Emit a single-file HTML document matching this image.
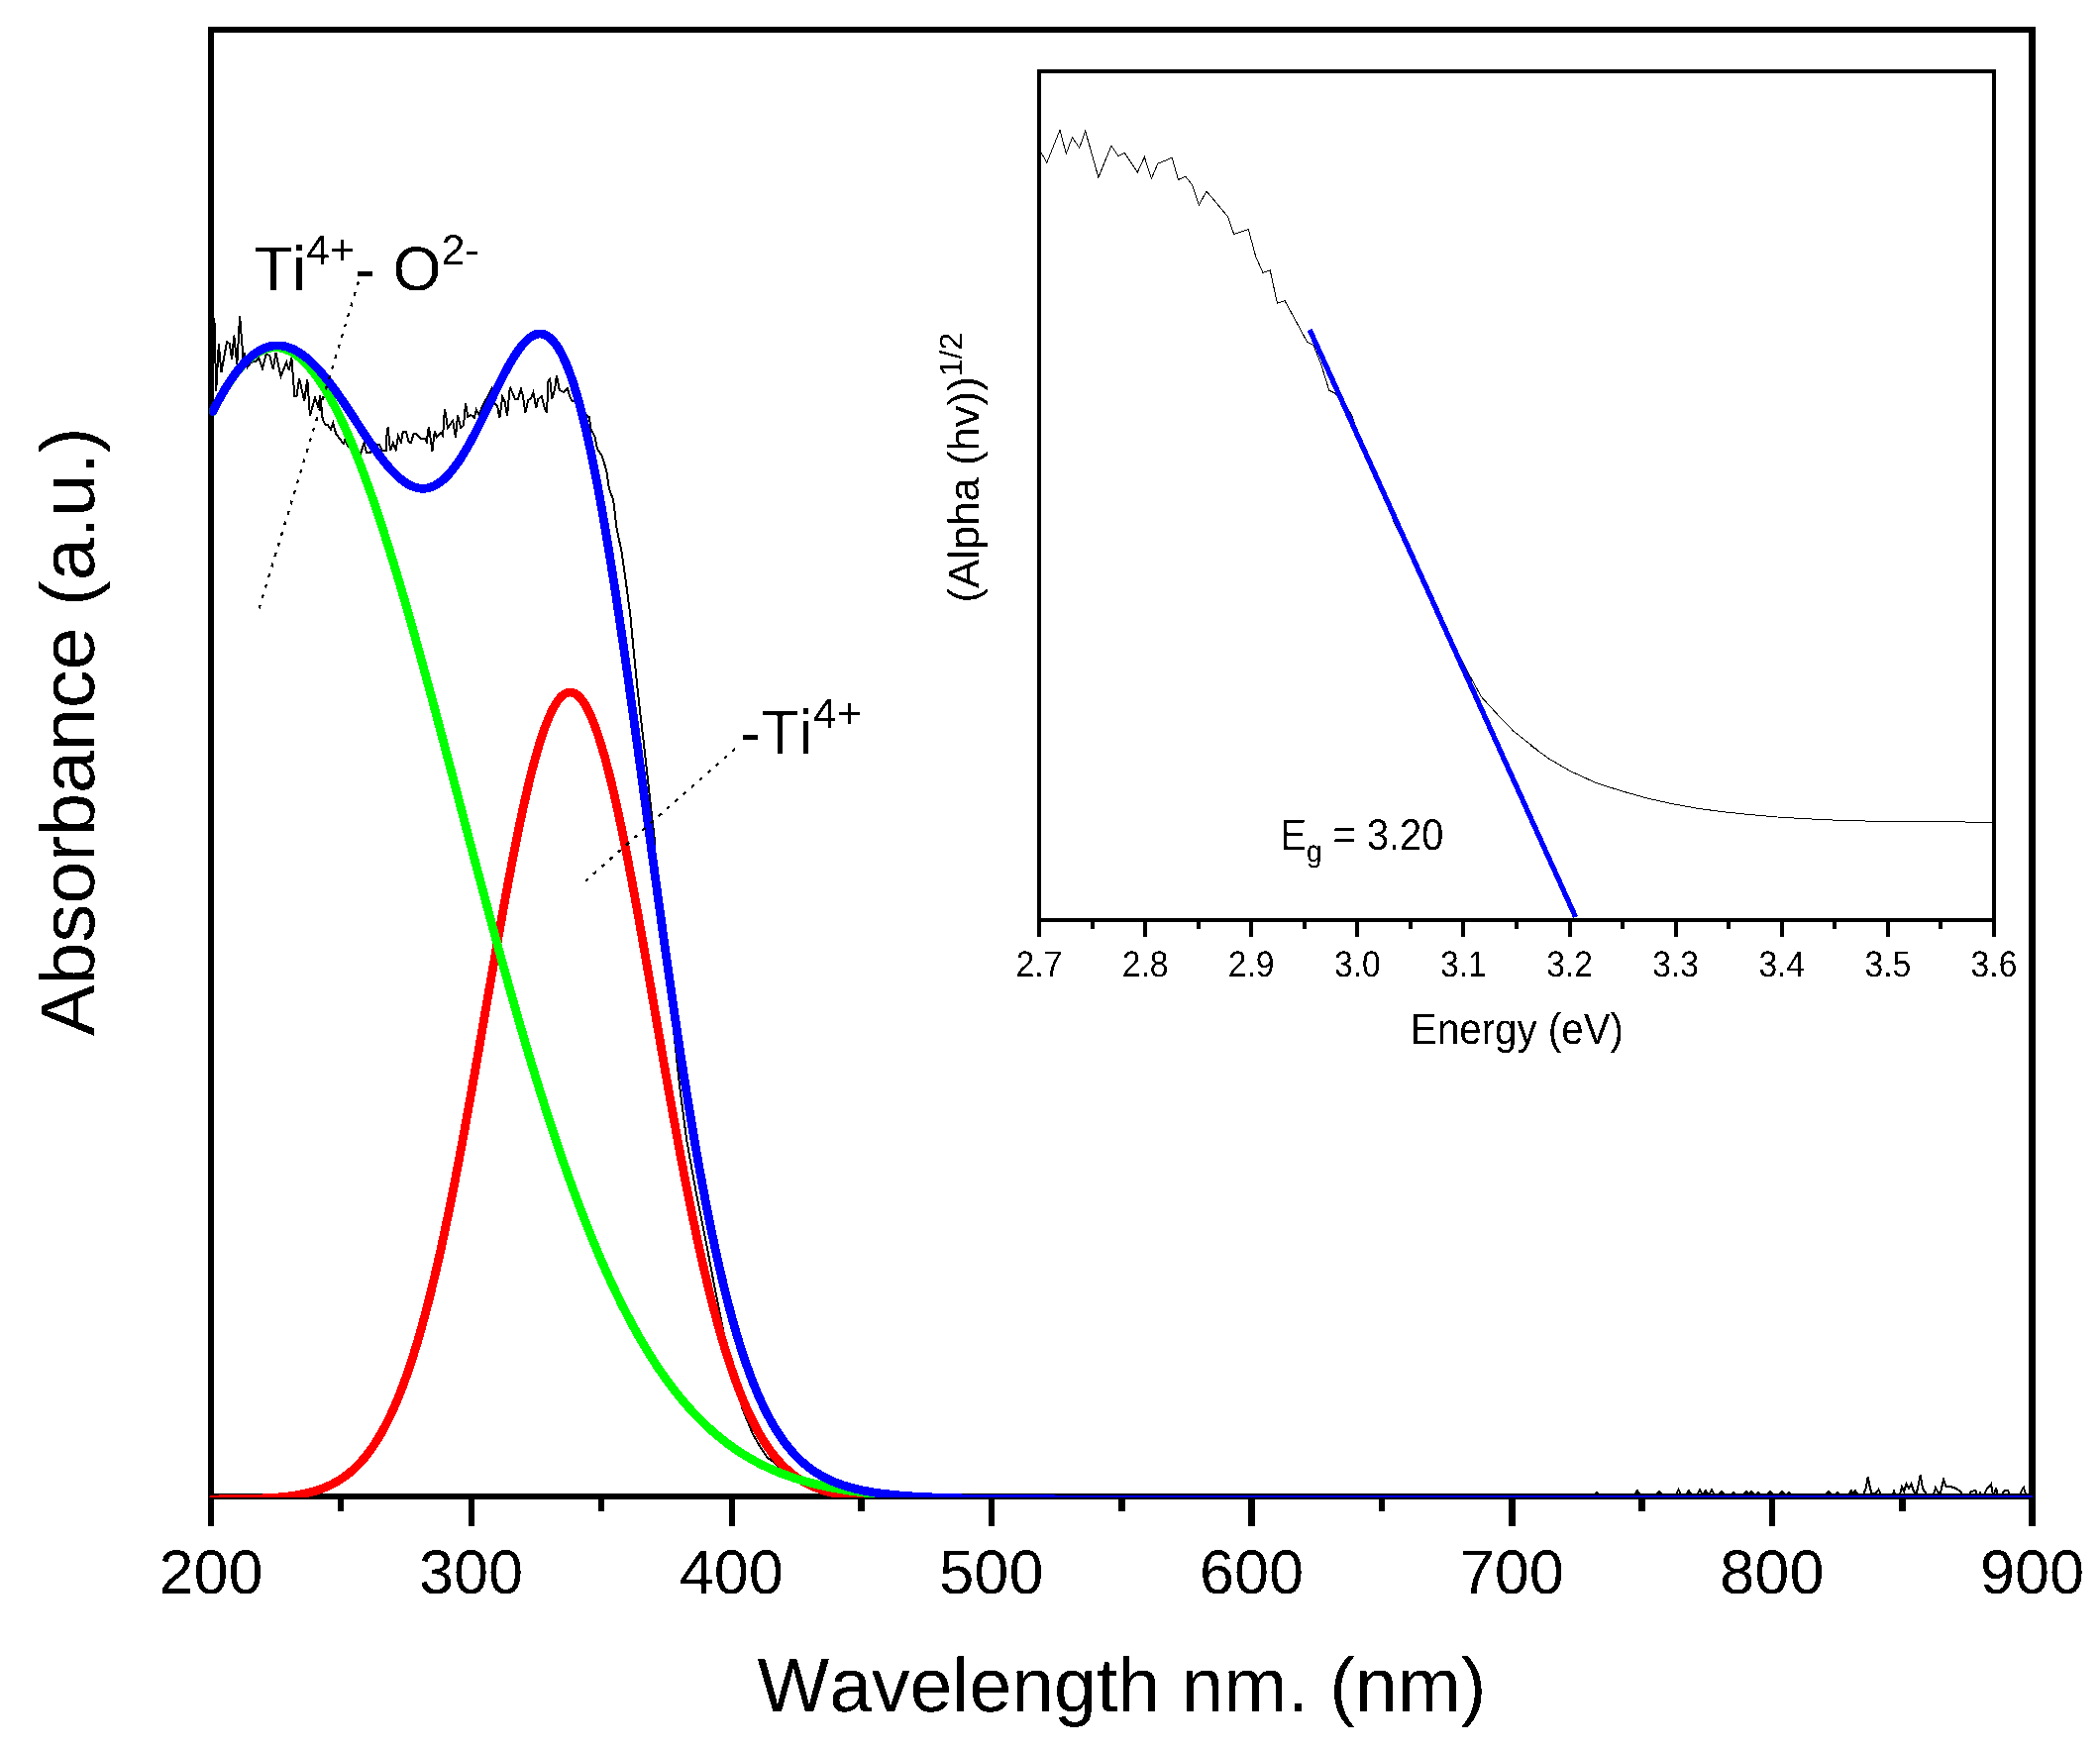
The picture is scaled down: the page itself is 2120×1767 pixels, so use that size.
<!DOCTYPE html>
<html lang="en">
<head>
<meta charset="utf-8">
<title>UV-Vis absorbance</title>
<style>
html,body{margin:0;padding:0;background:#fff;}
body{width:2120px;height:1767px;overflow:hidden;}
svg{display:block;}
.t{filter:url(#bin);font-family:"Liberation Sans",Arial,Helvetica,sans-serif;fill:#000;font-kerning:none;font-feature-settings:"kern" 0;text-rendering:geometricPrecision;}
</style>
</head>
<body>
<svg width="2120" height="1767" viewBox="0 0 2120 1767">
<defs>
<clipPath id="cm"><rect x="211.5" y="30.0" width="1840.5" height="1482.0"/></clipPath>
<clipPath id="ci"><rect x="1049.0" y="72.0" width="964.0" height="857.0"/></clipPath>
<filter id="bin" x="-5%" y="-5%" width="110%" height="110%" color-interpolation-filters="sRGB"><feComponentTransfer><feFuncA type="discrete" tableValues="0 1"/></feComponentTransfer></filter>
</defs>
<rect width="2120" height="1767" fill="#fff"/>
<g fill="#000" shape-rendering="crispEdges">
<rect x="210" y="27" width="6" height="1487"/>
<rect x="2048" y="27" width="7" height="1487"/>
<rect x="210" y="27" width="1845" height="6"/>
<rect x="210" y="1508" width="1845" height="6"/>
<rect x="210" y="1514" width="6" height="27"/>
<rect x="341" y="1514" width="6" height="12"/>
<rect x="473" y="1514" width="6" height="27"/>
<rect x="604" y="1514" width="6" height="12"/>
<rect x="736" y="1514" width="6" height="27"/>
<rect x="866" y="1514" width="7" height="12"/>
<rect x="998" y="1514" width="6" height="27"/>
<rect x="1129" y="1514" width="7" height="12"/>
<rect x="1260" y="1514" width="7" height="27"/>
<rect x="1392" y="1514" width="6" height="12"/>
<rect x="1523" y="1514" width="7" height="27"/>
<rect x="1654" y="1514" width="7" height="12"/>
<rect x="1786" y="1514" width="6" height="27"/>
<rect x="1917" y="1514" width="7" height="12"/>
<rect x="2048" y="1514" width="7" height="27"/>
</g>
<g clip-path="url(#cm)" fill="none" stroke-linejoin="round" stroke-linecap="round" shape-rendering="crispEdges">
<path d="M216.4,321.1 L218.2,394.6 L220.8,347.3 L223.4,376.1 L229.0,345.3 L231.6,346.8 L234.2,362.7 L236.2,338.6 L239.3,367.9 L242.1,319.0 L245.5,361.7 L247.0,356.1 L249.6,371.0 L253.2,365.8 L258.3,364.8 L261.4,361.7 L265.0,372.0 L268.6,357.6 L272.2,359.1 L275.8,373.0 L278.4,356.1 L283.5,380.2 L289.2,365.8 L291.8,374.1 L294.3,360.7 L297.4,400.3 L299.5,400.3 L302.1,381.8 L307.2,404.9 L310.3,382.8 L312.9,419.8 L318.0,401.8 L321.6,412.1 L323.1,398.7 L324.7,413.1 L325.7,423.4 L328.3,428.6 L330.9,429.1 L333.9,433.7 L336.3,427.0 L339.1,437.8 L346.8,448.1 L348.3,444.0 L351.9,451.2 L364.0,458.0 L367.6,447.2 L370.0,457.2 L373.6,457.2 L376.4,452.0 L380.0,449.0 L382.8,448.8 L386.0,455.2 L389.6,455.2 L390.0,443.2 L391.6,431.6 L392.8,443.2 L394.0,455.2 L396.8,447.2 L399.6,454.0 L402.0,440.0 L404.8,446.4 L406.8,436.0 L410.0,436.0 L412.4,445.6 L414.8,447.2 L417.6,438.0 L420.4,438.0 L425.2,442.8 L429.2,442.8 L430.8,446.0 L432.8,430.8 L434.8,444.0 L436.4,456.0 L438.8,435.2 L440.8,441.2 L445.2,437.2 L447.2,440.0 L448.0,424.0 L449.2,413.6 L452.0,432.0 L457.2,424.8 L460.0,442.0 L462.0,419.6 L465.2,432.0 L468.0,429.6 L470.0,407.6 L472.4,420.8 L475.2,418.8 L478.8,421.6 L480.8,413.6 L483.6,418.8 L488.0,408.0 L491.2,402.4 L496.0,392.8 L499.2,407.2 L502.0,409.6 L504.4,422.0 L507.2,400.8 L509.6,405.6 L512.0,420.0 L514.8,390.8 L520.0,403.2 L522.8,403.2 L526.0,392.8 L528.0,400.0 L530.4,416.8 L533.2,404.0 L536.0,402.4 L538.4,396.0 L541.2,412.0 L543.2,403.2 L546.8,400.0 L549.6,411.2 L552.0,416.8 L553.6,384.0 L555.2,382.8 L557.2,403.2 L560.0,393.6 L562.0,378.8 L564.8,394.0 L569.2,396.0 L572.8,392.4 L576.0,402.4 L578.4,405.2 L580.8,404.8 L585.7,413.7 L593.4,420.6 L595.1,421.4 L596.3,433.4 L600.3,440.3 L602.9,453.1 L608.0,460.9 L612.3,475.4 L614.9,493.4 L619.1,504.6 L622.6,533.7 L627.7,557.7 L632.0,588.6 L636.3,621.1 L639.7,657.1 L644.0,700.0 L651.0,760.0 L657.6,820.0 L660.6,846.0 L662.5,880.0 L672.0,980.0 L680.0,1040.0 L686.5,1100.0 L693.0,1150.0 L702.0,1200.0 L712.0,1250.0 L721.5,1300.0 L729.5,1340.0 L739.0,1388.0 L750.0,1424.0 L760.0,1448.0 L768.0,1462.0 L775.0,1472.0 L781.0,1476.0 L790.0,1486.0 L800.0,1494.0 L815.0,1501.0 L835.0,1506.0 L860.0,1509.0 L900.0,1510.5 L1600.0,1510.5 L1609.5,1509.0 L1612.0,1507.0 L1614.5,1509.0 L1650.5,1509.0 L1653.0,1505.0 L1655.5,1509.0 L1672.5,1509.0 L1675.0,1506.0 L1677.5,1509.0 L1692.0,1509.0 L1694.5,1504.0 L1697.0,1509.0 L1702.5,1509.0 L1705.0,1505.0 L1707.5,1509.0 L1713.5,1509.0 L1716.0,1504.0 L1718.5,1509.0 L1719.5,1509.0 L1722.0,1505.0 L1724.5,1509.0 L1725.5,1509.0 L1728.0,1504.0 L1730.5,1509.0 L1735.5,1509.0 L1738.0,1506.0 L1740.5,1509.0 L1747.5,1509.0 L1750.0,1507.0 L1752.5,1509.0 L1760.5,1509.0 L1763.0,1506.0 L1765.5,1509.0 L1765.5,1509.0 L1768.0,1506.0 L1770.5,1509.0 L1772.5,1509.0 L1775.0,1507.0 L1777.5,1509.0 L1784.5,1509.0 L1787.0,1506.0 L1789.5,1509.0 L1796.5,1509.0 L1799.0,1506.0 L1801.5,1509.0 L1803.5,1509.0 L1806.0,1507.0 L1808.5,1509.0 L1843.5,1509.0 L1846.0,1506.0 L1848.5,1509.0 L1852.5,1509.0 L1855.0,1507.0 L1857.5,1509.0 L1866.5,1509.0 L1869.0,1505.0 L1871.5,1509.0 L1870.5,1509.0 L1873.0,1505.0 L1875.5,1509.0 L1881.0,1509.0 L1883.5,1503.0 L1885.7,1491.5 L1888.0,1503.0 L1890.0,1509.0 L1893.0,1508.0 L1896.5,1504.0 L1899.0,1509.0 L1911.0,1509.0 L1912.0,1506.0 L1913.0,1509.0 L1918.0,1509.0 L1920.0,1501.0 L1922.0,1506.0 L1924.5,1498.5 L1927.0,1503.0 L1929.5,1498.5 L1932.0,1506.0 L1934.0,1509.0 L1936.0,1503.0 L1938.6,1489.5 L1941.0,1503.0 L1943.0,1506.0 L1945.0,1509.0 L1952.0,1509.0 L1954.0,1502.0 L1956.5,1507.0 L1959.0,1507.0 L1962.0,1494.0 L1964.5,1501.0 L1968.0,1500.5 L1972.0,1502.0 L1975.0,1503.0 L1979.0,1506.0 L1981.0,1509.0 L1988.0,1509.0 L1990.0,1506.0 L1994.5,1505.0 L1996.0,1509.0 L1998.0,1509.0 L1999.0,1507.0 L2000.0,1509.0 L2003.0,1509.0 L2006.0,1503.0 L2010.0,1498.5 L2011.5,1507.0 L2013.0,1509.0 L2015.0,1502.0 L2016.5,1509.0 L2021.0,1509.0 L2023.0,1505.5 L2027.0,1505.0 L2029.0,1509.0 L2039.0,1509.0 L2041.5,1504.0 L2043.0,1502.0 L2045.0,1509.0 L2051.0,1509.0" stroke="#000" stroke-width="2" stroke-linejoin="miter" stroke-linecap="butt"/>
<path d="M214.8,1513.9 L216.8,1513.9 L218.8,1513.9 L220.8,1513.9 L222.8,1513.8 L224.8,1513.8 L226.8,1513.8 L228.8,1513.8 L230.8,1513.8 L232.8,1513.7 L234.8,1513.7 L236.8,1513.7 L238.8,1513.7 L240.8,1513.6 L242.8,1513.6 L244.8,1513.6 L246.8,1513.5 L248.8,1513.5 L250.8,1513.4 L252.8,1513.4 L254.8,1513.3 L256.8,1513.2 L258.8,1513.2 L260.8,1513.1 L262.8,1513.0 L264.8,1512.9 L266.8,1512.8 L268.8,1512.7 L270.8,1512.6 L272.8,1512.5 L274.8,1512.4 L276.8,1512.2 L278.8,1512.1 L280.8,1511.9 L282.8,1511.7 L284.8,1511.6 L286.8,1511.4 L288.8,1511.1 L290.8,1510.9 L292.8,1510.7 L294.8,1510.4 L296.8,1510.1 L298.8,1509.8 L300.8,1509.5 L302.8,1509.1 L304.8,1508.7 L306.8,1508.3 L308.8,1507.9 L310.8,1507.4 L312.8,1506.9 L314.8,1506.4 L316.8,1505.8 L318.8,1505.2 L320.8,1504.6 L322.8,1503.9 L324.8,1503.2 L326.8,1502.4 L328.8,1501.6 L330.8,1500.7 L332.8,1499.8 L334.8,1498.8 L336.8,1497.8 L338.8,1496.7 L340.8,1495.6 L342.8,1494.3 L344.8,1493.0 L346.8,1491.7 L348.8,1490.2 L350.8,1488.7 L352.8,1487.1 L354.8,1485.4 L356.8,1483.6 L358.8,1481.8 L360.8,1479.8 L362.8,1477.7 L364.8,1475.5 L366.8,1473.3 L368.8,1470.9 L370.8,1468.4 L372.8,1465.7 L374.8,1463.0 L376.8,1460.1 L378.8,1457.1 L380.8,1453.9 L382.8,1450.6 L384.8,1447.2 L386.8,1443.6 L388.8,1439.9 L390.8,1436.0 L392.8,1432.0 L394.8,1427.8 L396.8,1423.4 L398.8,1418.9 L400.8,1414.2 L402.8,1409.3 L404.8,1404.2 L406.8,1399.0 L408.8,1393.5 L410.8,1387.9 L412.8,1382.1 L414.8,1376.1 L416.8,1369.9 L418.8,1363.5 L420.8,1357.0 L422.8,1350.2 L424.8,1343.2 L426.8,1336.0 L428.8,1328.6 L430.8,1321.1 L432.8,1313.3 L434.8,1305.3 L436.8,1297.1 L438.8,1288.8 L440.8,1280.2 L442.8,1271.4 L444.8,1262.5 L446.8,1253.3 L448.8,1244.0 L450.8,1234.5 L452.8,1224.9 L454.8,1215.0 L456.8,1205.0 L458.8,1194.8 L460.8,1184.5 L462.8,1174.0 L464.8,1163.4 L466.8,1152.7 L468.8,1141.8 L470.8,1130.8 L472.8,1119.8 L474.8,1108.6 L476.8,1097.3 L478.8,1085.9 L480.8,1074.5 L482.8,1063.0 L484.8,1051.5 L486.8,1039.9 L488.8,1028.4 L490.8,1016.8 L492.8,1005.2 L494.8,993.6 L496.8,982.1 L498.8,970.6 L500.8,959.1 L502.8,947.8 L504.8,936.5 L506.8,925.3 L508.8,914.2 L510.8,903.3 L512.8,892.5 L514.8,881.8 L516.8,871.4 L518.8,861.1 L520.8,851.0 L522.8,841.1 L524.8,831.4 L526.8,822.0 L528.8,812.9 L530.8,804.0 L532.8,795.4 L534.8,787.1 L536.8,779.1 L538.8,771.4 L540.8,764.1 L542.8,757.1 L544.8,750.4 L546.8,744.2 L548.8,738.2 L550.8,732.7 L552.8,727.6 L554.8,722.9 L556.8,718.6 L558.8,714.7 L560.8,711.2 L562.8,708.1 L564.8,705.5 L566.8,703.3 L568.8,701.6 L570.8,700.3 L572.8,699.4 L574.8,699.0 L576.8,699.1 L578.8,699.6 L580.8,700.5 L582.8,701.9 L584.8,703.7 L586.8,706.0 L588.8,708.7 L590.8,711.8 L592.8,715.4 L594.8,719.4 L596.8,723.8 L598.8,728.6 L600.8,733.8 L602.8,739.4 L604.8,745.4 L606.8,751.7 L608.8,758.5 L610.8,765.5 L612.8,772.9 L614.8,780.7 L616.8,788.7 L618.8,797.1 L620.8,805.8 L622.8,814.7 L624.8,823.9 L626.8,833.4 L628.8,843.0 L630.8,853.0 L632.8,863.1 L634.8,873.4 L636.8,883.9 L638.8,894.6 L640.8,905.5 L642.8,916.4 L644.8,927.5 L646.8,938.7 L648.8,950.0 L650.8,961.4 L652.8,972.9 L654.8,984.4 L656.8,995.9 L658.8,1007.5 L660.8,1019.1 L662.8,1030.7 L664.8,1042.3 L666.8,1053.8 L668.8,1065.3 L670.8,1076.8 L672.8,1088.2 L674.8,1099.5 L676.8,1110.8 L678.8,1122.0 L680.8,1133.0 L682.8,1144.0 L684.8,1154.8 L686.8,1165.6 L688.8,1176.1 L690.8,1186.6 L692.8,1196.9 L694.8,1207.0 L696.8,1217.0 L698.8,1226.8 L700.8,1236.4 L702.8,1245.9 L704.8,1255.2 L706.8,1264.3 L708.8,1273.2 L710.8,1281.9 L712.8,1290.4 L714.8,1298.8 L716.8,1306.9 L718.8,1314.9 L720.8,1322.6 L722.8,1330.1 L724.8,1337.5 L726.8,1344.6 L728.8,1351.6 L730.8,1358.3 L732.8,1364.8 L734.8,1371.2 L736.8,1377.3 L738.8,1383.3 L740.8,1389.1 L742.8,1394.6 L744.8,1400.0 L746.8,1405.2 L748.8,1410.3 L750.8,1415.1 L752.8,1419.8 L754.8,1424.3 L756.8,1428.6 L758.8,1432.8 L760.8,1436.8 L762.8,1440.7 L764.8,1444.4 L766.8,1447.9 L768.8,1451.3 L770.8,1454.6 L772.8,1457.7 L774.8,1460.7 L776.8,1463.5 L778.8,1466.3 L780.8,1468.9 L782.8,1471.4 L784.8,1473.7 L786.8,1476.0 L788.8,1478.1 L790.8,1480.2 L792.8,1482.1 L794.8,1484.0 L796.8,1485.8 L798.8,1487.4 L800.8,1489.0 L802.8,1490.5 L804.8,1492.0 L806.8,1493.3 L808.8,1494.6 L810.8,1495.8 L812.8,1496.9 L814.8,1498.0 L816.8,1499.0 L818.8,1500.0 L820.8,1500.9 L822.8,1501.8 L824.8,1502.6 L826.8,1503.3 L828.8,1504.0 L830.8,1504.7 L832.8,1505.4 L834.8,1505.9 L836.8,1506.5 L838.8,1507.0 L840.8,1507.5 L842.8,1508.0 L844.8,1508.4 L846.8,1508.8 L848.8,1509.2 L850.8,1509.5 L852.8,1509.9 L854.8,1510.2 L856.8,1510.4 L858.8,1510.7 L860.8,1511.0 L862.8,1511.2 L864.8,1511.4 L866.8,1511.6 L868.8,1511.8 L870.8,1512.0 L872.8,1512.1 L874.8,1512.3 L876.8,1512.4 L878.8,1512.5 L880.8,1512.6 L882.8,1512.8 L884.8,1512.9 L886.8,1513.0 L888.8,1513.0 L890.8,1513.1 L892.8,1513.2 L894.8,1513.3 L896.8,1513.3 L898.8,1513.4 L900.8,1513.4 L902.8,1513.5 L904.8,1513.5 L906.8,1513.6 L908.8,1513.6 L910.8,1513.6 L912.8,1513.7 L914.8,1513.7 L916.8,1513.7 L918.8,1513.8 L920.8,1513.8 L922.8,1513.8 L924.8,1513.8 L926.8,1513.8 L928.8,1513.8 L930.8,1513.9 L932.8,1513.9 L934.8,1513.9 L936.8,1513.9 L938.8,1513.9 L940.8,1513.9 L942.8,1513.9 L944.8,1513.9 L946.8,1513.9 L948.8,1513.9 L950.8,1513.9 L952.8,1514.0 L954.8,1514.0 L956.8,1514.0 L958.8,1514.0 L960.8,1514.0 L962.8,1514.0 L964.8,1514.0 L966.8,1514.0 L968.8,1514.0 L970.8,1514.0 L972.8,1514.0 L974.8,1514.0 L976.8,1514.0 L978.8,1514.0 L980.8,1514.0 L982.8,1514.0 L984.8,1514.0 L986.8,1514.0 L988.8,1514.0 L990.8,1514.0 L992.8,1514.0 L994.8,1514.0 L996.8,1514.0 L998.8,1514.0 L1000.8,1514.0 L1002.8,1514.0 L1004.8,1514.0 L1006.8,1514.0 L1008.8,1514.0 L1010.8,1514.0 L1012.8,1514.0 L1014.8,1514.0 L1016.8,1514.0 L1018.8,1514.0 L1020.8,1514.0 L1022.8,1514.0 L1024.8,1514.0 L1026.8,1514.0 L1028.8,1514.0 L1030.8,1514.0 L1032.8,1514.0 L1034.8,1514.0 L1036.8,1514.0 L1038.8,1514.0 L1040.8,1514.0 L1042.8,1514.0 L1044.8,1514.0 L1046.8,1514.0 L1048.8,1514.0 L1050.8,1514.0 L1052.8,1514.0 L1054.8,1514.0 L1056.8,1514.0 L1058.8,1514.0 L1060.8,1514.0 L1062.8,1514.0 L1064.8,1514.0 L1066.8,1514.0 L1068.8,1514.0 L1070.8,1514.0 L1072.8,1514.0 L1074.8,1514.0 L1076.8,1514.0 L1078.8,1514.0 L1080.8,1514.0 L1082.8,1514.0 L1084.8,1514.0 L1086.8,1514.0 L1088.8,1514.0 L1090.8,1514.0 L1092.8,1514.0 L1094.8,1514.0 L1096.8,1514.0 L1098.8,1514.0 L1100.8,1514.0 L1102.8,1514.0 L1104.8,1514.0 L1106.8,1514.0 L1108.8,1514.0 L1110.8,1514.0 L1112.8,1514.0 L1114.8,1514.0 L1116.8,1514.0 L1118.8,1514.0 L1120.8,1514.0 L1122.8,1514.0 L1124.8,1514.0 L1126.8,1514.0 L1128.8,1514.0 L1130.8,1514.0 L1132.8,1514.0 L1134.8,1514.0 L1136.8,1514.0 L1138.8,1514.0 L1140.8,1514.0 L1142.8,1514.0 L1144.8,1514.0 L1146.8,1514.0 L1148.8,1514.0 L1150.8,1514.0 L1152.8,1514.0 L1154.8,1514.0 L1156.8,1514.0 L1158.8,1514.0 L1160.8,1514.0 L1162.8,1514.0 L1164.8,1514.0 L1166.8,1514.0 L1168.8,1514.0 L1170.8,1514.0 L1172.8,1514.0 L1174.8,1514.0 L1176.8,1514.0 L1178.8,1514.0 L1180.8,1514.0 L1182.8,1514.0 L1184.8,1514.0 L1186.8,1514.0 L1188.8,1514.0 L1190.8,1514.0 L1192.8,1514.0 L1194.8,1514.0 L1196.8,1514.0 L1198.8,1514.0 L1200.8,1514.0 L1202.8,1514.0 L1204.8,1514.0 L1206.8,1514.0 L1208.8,1514.0 L1210.8,1514.0 L1212.8,1514.0 L1214.8,1514.0 L1216.8,1514.0 L1218.8,1514.0 L1220.8,1514.0 L1222.8,1514.0 L1224.8,1514.0 L1226.8,1514.0 L1228.8,1514.0 L1230.8,1514.0 L1232.8,1514.0 L1234.8,1514.0 L1236.8,1514.0 L1238.8,1514.0 L1240.8,1514.0 L1242.8,1514.0 L1244.8,1514.0 L1246.8,1514.0 L1248.8,1514.0 L1250.8,1514.0 L1252.8,1514.0 L1254.8,1514.0 L1256.8,1514.0 L1258.8,1514.0 L1260.8,1514.0 L1262.8,1514.0 L1264.8,1514.0 L1266.8,1514.0 L1268.8,1514.0 L1270.8,1514.0 L1272.8,1514.0 L1274.8,1514.0 L1276.8,1514.0 L1278.8,1514.0 L1280.8,1514.0 L1282.8,1514.0 L1284.8,1514.0 L1286.8,1514.0 L1288.8,1514.0 L1290.8,1514.0 L1292.8,1514.0 L1294.8,1514.0 L1296.8,1514.0 L1298.8,1514.0 L1300.8,1514.0 L1302.8,1514.0 L1304.8,1514.0 L1306.8,1514.0 L1308.8,1514.0 L1310.8,1514.0 L1312.8,1514.0 L1314.8,1514.0 L1316.8,1514.0 L1318.8,1514.0 L1320.8,1514.0 L1322.8,1514.0 L1324.8,1514.0 L1326.8,1514.0 L1328.8,1514.0 L1330.8,1514.0 L1332.8,1514.0 L1334.8,1514.0 L1336.8,1514.0 L1338.8,1514.0 L1340.8,1514.0 L1342.8,1514.0 L1344.8,1514.0 L1346.8,1514.0 L1348.8,1514.0 L1350.8,1514.0 L1352.8,1514.0 L1354.8,1514.0 L1356.8,1514.0 L1358.8,1514.0 L1360.8,1514.0 L1362.8,1514.0 L1364.8,1514.0 L1366.8,1514.0 L1368.8,1514.0 L1370.8,1514.0 L1372.8,1514.0 L1374.8,1514.0 L1376.8,1514.0 L1378.8,1514.0 L1380.8,1514.0 L1382.8,1514.0 L1384.8,1514.0 L1386.8,1514.0 L1388.8,1514.0 L1390.8,1514.0 L1392.8,1514.0 L1394.8,1514.0 L1396.8,1514.0 L1398.8,1514.0 L1400.8,1514.0 L1402.8,1514.0 L1404.8,1514.0 L1406.8,1514.0 L1408.8,1514.0 L1410.8,1514.0 L1412.8,1514.0 L1414.8,1514.0 L1416.8,1514.0 L1418.8,1514.0 L1420.8,1514.0 L1422.8,1514.0 L1424.8,1514.0 L1426.8,1514.0 L1428.8,1514.0 L1430.8,1514.0 L1432.8,1514.0 L1434.8,1514.0 L1436.8,1514.0 L1438.8,1514.0 L1440.8,1514.0 L1442.8,1514.0 L1444.8,1514.0 L1446.8,1514.0 L1448.8,1514.0 L1450.8,1514.0 L1452.8,1514.0 L1454.8,1514.0 L1456.8,1514.0 L1458.8,1514.0 L1460.8,1514.0 L1462.8,1514.0 L1464.8,1514.0 L1466.8,1514.0 L1468.8,1514.0 L1470.8,1514.0 L1472.8,1514.0 L1474.8,1514.0 L1476.8,1514.0 L1478.8,1514.0 L1480.8,1514.0 L1482.8,1514.0 L1484.8,1514.0 L1486.8,1514.0 L1488.8,1514.0 L1490.8,1514.0 L1492.8,1514.0 L1494.8,1514.0 L1496.8,1514.0 L1498.8,1514.0 L1500.8,1514.0 L1502.8,1514.0 L1504.8,1514.0 L1506.8,1514.0 L1508.8,1514.0 L1510.8,1514.0 L1512.8,1514.0 L1514.8,1514.0 L1516.8,1514.0 L1518.8,1514.0 L1520.8,1514.0 L1522.8,1514.0 L1524.8,1514.0 L1526.8,1514.0 L1528.8,1514.0 L1530.8,1514.0 L1532.8,1514.0 L1534.8,1514.0 L1536.8,1514.0 L1538.8,1514.0 L1540.8,1514.0 L1542.8,1514.0 L1544.8,1514.0 L1546.8,1514.0 L1548.8,1514.0 L1550.8,1514.0 L1552.8,1514.0 L1554.8,1514.0 L1556.8,1514.0 L1558.8,1514.0 L1560.8,1514.0 L1562.8,1514.0 L1564.8,1514.0 L1566.8,1514.0 L1568.8,1514.0 L1570.8,1514.0 L1572.8,1514.0 L1574.8,1514.0 L1576.8,1514.0 L1578.8,1514.0 L1580.8,1514.0 L1582.8,1514.0 L1584.8,1514.0 L1586.8,1514.0 L1588.8,1514.0 L1590.8,1514.0 L1592.8,1514.0 L1594.8,1514.0 L1596.8,1514.0 L1598.8,1514.0 L1600.8,1514.0 L1602.8,1514.0 L1604.8,1514.0 L1606.8,1514.0 L1608.8,1514.0 L1610.8,1514.0 L1612.8,1514.0 L1614.8,1514.0 L1616.8,1514.0 L1618.8,1514.0 L1620.8,1514.0 L1622.8,1514.0 L1624.8,1514.0 L1626.8,1514.0 L1628.8,1514.0 L1630.8,1514.0 L1632.8,1514.0 L1634.8,1514.0 L1636.8,1514.0 L1638.8,1514.0 L1640.8,1514.0 L1642.8,1514.0 L1644.8,1514.0 L1646.8,1514.0 L1648.8,1514.0 L1650.8,1514.0 L1652.8,1514.0 L1654.8,1514.0 L1656.8,1514.0 L1658.8,1514.0 L1660.8,1514.0 L1662.8,1514.0 L1664.8,1514.0 L1666.8,1514.0 L1668.8,1514.0 L1670.8,1514.0 L1672.8,1514.0 L1674.8,1514.0 L1676.8,1514.0 L1678.8,1514.0 L1680.8,1514.0 L1682.8,1514.0 L1684.8,1514.0 L1686.8,1514.0 L1688.8,1514.0 L1690.8,1514.0 L1692.8,1514.0 L1694.8,1514.0 L1696.8,1514.0 L1698.8,1514.0 L1700.8,1514.0 L1702.8,1514.0 L1704.8,1514.0 L1706.8,1514.0 L1708.8,1514.0 L1710.8,1514.0 L1712.8,1514.0 L1714.8,1514.0 L1716.8,1514.0 L1718.8,1514.0 L1720.8,1514.0 L1722.8,1514.0 L1724.8,1514.0 L1726.8,1514.0 L1728.8,1514.0 L1730.8,1514.0 L1732.8,1514.0 L1734.8,1514.0 L1736.8,1514.0 L1738.8,1514.0 L1740.8,1514.0 L1742.8,1514.0 L1744.8,1514.0 L1746.8,1514.0 L1748.8,1514.0 L1750.8,1514.0 L1752.8,1514.0 L1754.8,1514.0 L1756.8,1514.0 L1758.8,1514.0 L1760.8,1514.0 L1762.8,1514.0 L1764.8,1514.0 L1766.8,1514.0 L1768.8,1514.0 L1770.8,1514.0 L1772.8,1514.0 L1774.8,1514.0 L1776.8,1514.0 L1778.8,1514.0 L1780.8,1514.0 L1782.8,1514.0 L1784.8,1514.0 L1786.8,1514.0 L1788.8,1514.0 L1790.8,1514.0 L1792.8,1514.0 L1794.8,1514.0 L1796.8,1514.0 L1798.8,1514.0 L1800.8,1514.0 L1802.8,1514.0 L1804.8,1514.0 L1806.8,1514.0 L1808.8,1514.0 L1810.8,1514.0 L1812.8,1514.0 L1814.8,1514.0 L1816.8,1514.0 L1818.8,1514.0 L1820.8,1514.0 L1822.8,1514.0 L1824.8,1514.0 L1826.8,1514.0 L1828.8,1514.0 L1830.8,1514.0 L1832.8,1514.0 L1834.8,1514.0 L1836.8,1514.0 L1838.8,1514.0 L1840.8,1514.0 L1842.8,1514.0 L1844.8,1514.0 L1846.8,1514.0 L1848.8,1514.0 L1850.8,1514.0 L1852.8,1514.0 L1854.8,1514.0 L1856.8,1514.0 L1858.8,1514.0 L1860.8,1514.0 L1862.8,1514.0 L1864.8,1514.0 L1866.8,1514.0 L1868.8,1514.0 L1870.8,1514.0 L1872.8,1514.0 L1874.8,1514.0 L1876.8,1514.0 L1878.8,1514.0 L1880.8,1514.0 L1882.8,1514.0 L1884.8,1514.0 L1886.8,1514.0 L1888.8,1514.0 L1890.8,1514.0 L1892.8,1514.0 L1894.8,1514.0 L1896.8,1514.0 L1898.8,1514.0 L1900.8,1514.0 L1902.8,1514.0 L1904.8,1514.0 L1906.8,1514.0 L1908.8,1514.0 L1910.8,1514.0 L1912.8,1514.0 L1914.8,1514.0 L1916.8,1514.0 L1918.8,1514.0 L1920.8,1514.0 L1922.8,1514.0 L1924.8,1514.0 L1926.8,1514.0 L1928.8,1514.0 L1930.8,1514.0 L1932.8,1514.0 L1934.8,1514.0 L1936.8,1514.0 L1938.8,1514.0 L1940.8,1514.0 L1942.8,1514.0 L1944.8,1514.0 L1946.8,1514.0 L1948.8,1514.0 L1950.8,1514.0 L1952.8,1514.0 L1954.8,1514.0 L1956.8,1514.0 L1958.8,1514.0 L1960.8,1514.0 L1962.8,1514.0 L1964.8,1514.0 L1966.8,1514.0 L1968.8,1514.0 L1970.8,1514.0 L1972.8,1514.0 L1974.8,1514.0 L1976.8,1514.0 L1978.8,1514.0 L1980.8,1514.0 L1982.8,1514.0 L1984.8,1514.0 L1986.8,1514.0 L1988.8,1514.0 L1990.8,1514.0 L1992.8,1514.0 L1994.8,1514.0 L1996.8,1514.0 L1998.8,1514.0 L2000.8,1514.0 L2002.8,1514.0 L2004.8,1514.0 L2006.8,1514.0 L2008.8,1514.0 L2010.8,1514.0 L2012.8,1514.0 L2014.8,1514.0 L2016.8,1514.0 L2018.8,1514.0 L2020.8,1514.0 L2022.8,1514.0 L2024.8,1514.0 L2026.8,1514.0 L2028.8,1514.0 L2030.8,1514.0 L2032.8,1514.0 L2034.8,1514.0 L2036.8,1514.0 L2038.8,1514.0 L2040.8,1514.0 L2042.8,1514.0 L2044.8,1514.0 L2046.8,1514.0 L2048.8,1514.0 L2050.8,1514.0 L2052.8,1514.0 L2054.8,1514.0" stroke="#f00" stroke-width="8.8"/>
<path d="M214.8,415.6 L216.8,411.7 L218.8,407.9 L220.8,404.1 L222.8,400.5 L224.8,397.1 L226.8,393.7 L228.8,390.4 L230.8,387.3 L232.8,384.3 L234.8,381.4 L236.8,378.7 L238.8,376.0 L240.8,373.5 L242.8,371.2 L244.8,368.9 L246.8,366.8 L248.8,364.8 L250.8,362.9 L252.8,361.2 L254.8,359.6 L256.8,358.1 L258.8,356.8 L260.8,355.6 L262.8,354.5 L264.8,353.6 L266.8,352.8 L268.8,352.1 L270.8,351.6 L272.8,351.2 L274.8,350.9 L276.8,350.8 L278.8,350.8 L280.8,351.0 L282.8,351.2 L284.8,351.6 L286.8,352.2 L288.8,352.9 L290.8,353.7 L292.8,354.6 L294.8,355.7 L296.8,356.9 L298.8,358.3 L300.8,359.8 L302.8,361.4 L304.8,363.1 L306.8,365.0 L308.8,367.0 L310.8,369.1 L312.8,371.4 L314.8,373.8 L316.8,376.3 L318.8,378.9 L320.8,381.7 L322.8,384.6 L324.8,387.6 L326.8,390.8 L328.8,394.0 L330.8,397.4 L332.8,400.9 L334.8,404.5 L336.8,408.2 L338.8,412.1 L340.8,416.1 L342.8,420.1 L344.8,424.3 L346.8,428.6 L348.8,433.0 L350.8,437.5 L352.8,442.1 L354.8,446.9 L356.8,451.7 L358.8,456.6 L360.8,461.6 L362.8,466.7 L364.8,472.0 L366.8,477.3 L368.8,482.7 L370.8,488.2 L372.8,493.8 L374.8,499.4 L376.8,505.2 L378.8,511.0 L380.8,516.9 L382.8,522.9 L384.8,529.0 L386.8,535.2 L388.8,541.4 L390.8,547.7 L392.8,554.1 L394.8,560.5 L396.8,567.0 L398.8,573.6 L400.8,580.2 L402.8,586.9 L404.8,593.7 L406.8,600.5 L408.8,607.4 L410.8,614.3 L412.8,621.3 L414.8,628.3 L416.8,635.4 L418.8,642.5 L420.8,649.6 L422.8,656.8 L424.8,664.0 L426.8,671.3 L428.8,678.6 L430.8,686.0 L432.8,693.3 L434.8,700.7 L436.8,708.1 L438.8,715.6 L440.8,723.1 L442.8,730.5 L444.8,738.1 L446.8,745.6 L448.8,753.1 L450.8,760.7 L452.8,768.3 L454.8,775.8 L456.8,783.4 L458.8,791.0 L460.8,798.6 L462.8,806.2 L464.8,813.8 L466.8,821.4 L468.8,829.0 L470.8,836.6 L472.8,844.2 L474.8,851.7 L476.8,859.3 L478.8,866.9 L480.8,874.4 L482.8,881.9 L484.8,889.4 L486.8,896.9 L488.8,904.4 L490.8,911.9 L492.8,919.3 L494.8,926.7 L496.8,934.1 L498.8,941.4 L500.8,948.8 L502.8,956.1 L504.8,963.3 L506.8,970.6 L508.8,977.8 L510.8,984.9 L512.8,992.1 L514.8,999.2 L516.8,1006.2 L518.8,1013.3 L520.8,1020.2 L522.8,1027.2 L524.8,1034.1 L526.8,1040.9 L528.8,1047.7 L530.8,1054.5 L532.8,1061.2 L534.8,1067.9 L536.8,1074.5 L538.8,1081.1 L540.8,1087.6 L542.8,1094.1 L544.8,1100.6 L546.8,1106.9 L548.8,1113.3 L550.8,1119.5 L552.8,1125.8 L554.8,1131.9 L556.8,1138.0 L558.8,1144.1 L560.8,1150.1 L562.8,1156.0 L564.8,1161.9 L566.8,1167.8 L568.8,1173.5 L570.8,1179.3 L572.8,1184.9 L574.8,1190.5 L576.8,1196.1 L578.8,1201.6 L580.8,1207.0 L582.8,1212.4 L584.8,1217.7 L586.8,1222.9 L588.8,1228.1 L590.8,1233.2 L592.8,1238.3 L594.8,1243.3 L596.8,1248.3 L598.8,1253.1 L600.8,1258.0 L602.8,1262.7 L604.8,1267.4 L606.8,1272.1 L608.8,1276.7 L610.8,1281.2 L612.8,1285.7 L614.8,1290.1 L616.8,1294.4 L618.8,1298.7 L620.8,1302.9 L622.8,1307.1 L624.8,1311.2 L626.8,1315.3 L628.8,1319.3 L630.8,1323.2 L632.8,1327.1 L634.8,1330.9 L636.8,1334.7 L638.8,1338.4 L640.8,1342.0 L642.8,1345.6 L644.8,1349.2 L646.8,1352.6 L648.8,1356.1 L650.8,1359.4 L652.8,1362.8 L654.8,1366.0 L656.8,1369.2 L658.8,1372.4 L660.8,1375.5 L662.8,1378.5 L664.8,1381.5 L666.8,1384.5 L668.8,1387.4 L670.8,1390.2 L672.8,1393.0 L674.8,1395.8 L676.8,1398.5 L678.8,1401.1 L680.8,1403.7 L682.8,1406.3 L684.8,1408.8 L686.8,1411.3 L688.8,1413.7 L690.8,1416.0 L692.8,1418.4 L694.8,1420.6 L696.8,1422.9 L698.8,1425.1 L700.8,1427.2 L702.8,1429.3 L704.8,1431.4 L706.8,1433.4 L708.8,1435.4 L710.8,1437.4 L712.8,1439.3 L714.8,1441.1 L716.8,1443.0 L718.8,1444.7 L720.8,1446.5 L722.8,1448.2 L724.8,1449.9 L726.8,1451.5 L728.8,1453.1 L730.8,1454.7 L732.8,1456.3 L734.8,1457.8 L736.8,1459.2 L738.8,1460.7 L740.8,1462.1 L742.8,1463.5 L744.8,1464.8 L746.8,1466.1 L748.8,1467.4 L750.8,1468.7 L752.8,1469.9 L754.8,1471.1 L756.8,1472.3 L758.8,1473.4 L760.8,1474.6 L762.8,1475.6 L764.8,1476.7 L766.8,1477.8 L768.8,1478.8 L770.8,1479.8 L772.8,1480.7 L774.8,1481.7 L776.8,1482.6 L778.8,1483.5 L780.8,1484.4 L782.8,1485.2 L784.8,1486.0 L786.8,1486.9 L788.8,1487.7 L790.8,1488.4 L792.8,1489.2 L794.8,1489.9 L796.8,1490.6 L798.8,1491.3 L800.8,1492.0 L802.8,1492.7 L804.8,1493.3 L806.8,1493.9 L808.8,1494.5 L810.8,1495.1 L812.8,1495.7 L814.8,1496.3 L816.8,1496.8 L818.8,1497.3 L820.8,1497.8 L822.8,1498.3 L824.8,1498.8 L826.8,1499.3 L828.8,1499.8 L830.8,1500.2 L832.8,1500.7 L834.8,1501.1 L836.8,1501.5 L838.8,1501.9 L840.8,1502.3 L842.8,1502.7 L844.8,1503.0 L846.8,1503.4 L848.8,1503.7 L850.8,1504.1 L852.8,1504.4 L854.8,1504.7 L856.8,1505.0 L858.8,1505.3 L860.8,1505.6 L862.8,1505.9 L864.8,1506.1 L866.8,1506.4 L868.8,1506.7 L870.8,1506.9 L872.8,1507.2 L874.8,1507.4 L876.8,1507.6 L878.8,1507.8 L880.8,1508.0 L882.8,1508.2 L884.8,1508.4 L886.8,1508.6 L888.8,1508.8 L890.8,1509.0 L892.8,1509.2 L894.8,1509.3 L896.8,1509.5 L898.8,1509.7 L900.8,1509.8 L902.8,1510.0 L904.8,1510.1 L906.8,1510.3 L908.8,1510.4 L910.8,1510.5 L912.8,1510.6 L914.8,1510.8 L916.8,1510.9 L918.8,1511.0 L920.8,1511.1 L922.8,1511.2 L924.8,1511.3 L926.8,1511.4 L928.8,1511.5 L930.8,1511.6 L932.8,1511.7 L934.8,1511.8 L936.8,1511.9 L938.8,1511.9 L940.8,1512.0 L942.8,1512.1 L944.8,1512.2 L946.8,1512.2 L948.8,1512.3 L950.8,1512.4 L952.8,1512.4 L954.8,1512.5 L956.8,1512.5 L958.8,1512.6 L960.8,1512.7 L962.8,1512.7 L964.8,1512.8 L966.8,1512.8 L968.8,1512.9 L970.8,1512.9 L972.8,1512.9 L974.8,1513.0 L976.8,1513.0 L978.8,1513.1 L980.8,1513.1 L982.8,1513.1 L984.8,1513.2 L986.8,1513.2 L988.8,1513.2 L990.8,1513.3 L992.8,1513.3 L994.8,1513.3 L996.8,1513.4 L998.8,1513.4 L1000.8,1513.4 L1002.8,1513.4 L1004.8,1513.5 L1006.8,1513.5 L1008.8,1513.5 L1010.8,1513.5 L1012.8,1513.5 L1014.8,1513.6 L1016.8,1513.6 L1018.8,1513.6 L1020.8,1513.6 L1022.8,1513.6 L1024.8,1513.6 L1026.8,1513.7 L1028.8,1513.7 L1030.8,1513.7 L1032.8,1513.7 L1034.8,1513.7 L1036.8,1513.7 L1038.8,1513.7 L1040.8,1513.7 L1042.8,1513.8 L1044.8,1513.8 L1046.8,1513.8 L1048.8,1513.8 L1050.8,1513.8 L1052.8,1513.8 L1054.8,1513.8 L1056.8,1513.8 L1058.8,1513.8 L1060.8,1513.8 L1062.8,1513.8 L1064.8,1513.9 L1066.8,1513.9 L1068.8,1513.9 L1070.8,1513.9 L1072.8,1513.9 L1074.8,1513.9 L1076.8,1513.9 L1078.8,1513.9 L1080.8,1513.9 L1082.8,1513.9 L1084.8,1513.9 L1086.8,1513.9 L1088.8,1513.9 L1090.8,1513.9 L1092.8,1513.9 L1094.8,1513.9 L1096.8,1513.9 L1098.8,1513.9 L1100.8,1513.9 L1102.8,1513.9 L1104.8,1513.9 L1106.8,1513.9 L1108.8,1513.9 L1110.8,1514.0 L1112.8,1514.0 L1114.8,1514.0 L1116.8,1514.0 L1118.8,1514.0 L1120.8,1514.0 L1122.8,1514.0 L1124.8,1514.0 L1126.8,1514.0 L1128.8,1514.0 L1130.8,1514.0 L1132.8,1514.0 L1134.8,1514.0 L1136.8,1514.0 L1138.8,1514.0 L1140.8,1514.0 L1142.8,1514.0 L1144.8,1514.0 L1146.8,1514.0 L1148.8,1514.0 L1150.8,1514.0 L1152.8,1514.0 L1154.8,1514.0 L1156.8,1514.0 L1158.8,1514.0 L1160.8,1514.0 L1162.8,1514.0 L1164.8,1514.0 L1166.8,1514.0 L1168.8,1514.0 L1170.8,1514.0 L1172.8,1514.0 L1174.8,1514.0 L1176.8,1514.0 L1178.8,1514.0 L1180.8,1514.0 L1182.8,1514.0 L1184.8,1514.0 L1186.8,1514.0 L1188.8,1514.0 L1190.8,1514.0 L1192.8,1514.0 L1194.8,1514.0 L1196.8,1514.0 L1198.8,1514.0 L1200.8,1514.0 L1202.8,1514.0 L1204.8,1514.0 L1206.8,1514.0 L1208.8,1514.0 L1210.8,1514.0 L1212.8,1514.0 L1214.8,1514.0 L1216.8,1514.0 L1218.8,1514.0 L1220.8,1514.0 L1222.8,1514.0 L1224.8,1514.0 L1226.8,1514.0 L1228.8,1514.0 L1230.8,1514.0 L1232.8,1514.0 L1234.8,1514.0 L1236.8,1514.0 L1238.8,1514.0 L1240.8,1514.0 L1242.8,1514.0 L1244.8,1514.0 L1246.8,1514.0 L1248.8,1514.0 L1250.8,1514.0 L1252.8,1514.0 L1254.8,1514.0 L1256.8,1514.0 L1258.8,1514.0 L1260.8,1514.0 L1262.8,1514.0 L1264.8,1514.0 L1266.8,1514.0 L1268.8,1514.0 L1270.8,1514.0 L1272.8,1514.0 L1274.8,1514.0 L1276.8,1514.0 L1278.8,1514.0 L1280.8,1514.0 L1282.8,1514.0 L1284.8,1514.0 L1286.8,1514.0 L1288.8,1514.0 L1290.8,1514.0 L1292.8,1514.0 L1294.8,1514.0 L1296.8,1514.0 L1298.8,1514.0 L1300.8,1514.0 L1302.8,1514.0 L1304.8,1514.0 L1306.8,1514.0 L1308.8,1514.0 L1310.8,1514.0 L1312.8,1514.0 L1314.8,1514.0 L1316.8,1514.0 L1318.8,1514.0 L1320.8,1514.0 L1322.8,1514.0 L1324.8,1514.0 L1326.8,1514.0 L1328.8,1514.0 L1330.8,1514.0 L1332.8,1514.0 L1334.8,1514.0 L1336.8,1514.0 L1338.8,1514.0 L1340.8,1514.0 L1342.8,1514.0 L1344.8,1514.0 L1346.8,1514.0 L1348.8,1514.0 L1350.8,1514.0 L1352.8,1514.0 L1354.8,1514.0 L1356.8,1514.0 L1358.8,1514.0 L1360.8,1514.0 L1362.8,1514.0 L1364.8,1514.0 L1366.8,1514.0 L1368.8,1514.0 L1370.8,1514.0 L1372.8,1514.0 L1374.8,1514.0 L1376.8,1514.0 L1378.8,1514.0 L1380.8,1514.0 L1382.8,1514.0 L1384.8,1514.0 L1386.8,1514.0 L1388.8,1514.0 L1390.8,1514.0 L1392.8,1514.0 L1394.8,1514.0 L1396.8,1514.0 L1398.8,1514.0 L1400.8,1514.0 L1402.8,1514.0 L1404.8,1514.0 L1406.8,1514.0 L1408.8,1514.0 L1410.8,1514.0 L1412.8,1514.0 L1414.8,1514.0 L1416.8,1514.0 L1418.8,1514.0 L1420.8,1514.0 L1422.8,1514.0 L1424.8,1514.0 L1426.8,1514.0 L1428.8,1514.0 L1430.8,1514.0 L1432.8,1514.0 L1434.8,1514.0 L1436.8,1514.0 L1438.8,1514.0 L1440.8,1514.0 L1442.8,1514.0 L1444.8,1514.0 L1446.8,1514.0 L1448.8,1514.0 L1450.8,1514.0 L1452.8,1514.0 L1454.8,1514.0 L1456.8,1514.0 L1458.8,1514.0 L1460.8,1514.0 L1462.8,1514.0 L1464.8,1514.0 L1466.8,1514.0 L1468.8,1514.0 L1470.8,1514.0 L1472.8,1514.0 L1474.8,1514.0 L1476.8,1514.0 L1478.8,1514.0 L1480.8,1514.0 L1482.8,1514.0 L1484.8,1514.0 L1486.8,1514.0 L1488.8,1514.0 L1490.8,1514.0 L1492.8,1514.0 L1494.8,1514.0 L1496.8,1514.0 L1498.8,1514.0 L1500.8,1514.0 L1502.8,1514.0 L1504.8,1514.0 L1506.8,1514.0 L1508.8,1514.0 L1510.8,1514.0 L1512.8,1514.0 L1514.8,1514.0 L1516.8,1514.0 L1518.8,1514.0 L1520.8,1514.0 L1522.8,1514.0 L1524.8,1514.0 L1526.8,1514.0 L1528.8,1514.0 L1530.8,1514.0 L1532.8,1514.0 L1534.8,1514.0 L1536.8,1514.0 L1538.8,1514.0 L1540.8,1514.0 L1542.8,1514.0 L1544.8,1514.0 L1546.8,1514.0 L1548.8,1514.0 L1550.8,1514.0 L1552.8,1514.0 L1554.8,1514.0 L1556.8,1514.0 L1558.8,1514.0 L1560.8,1514.0 L1562.8,1514.0 L1564.8,1514.0 L1566.8,1514.0 L1568.8,1514.0 L1570.8,1514.0 L1572.8,1514.0 L1574.8,1514.0 L1576.8,1514.0 L1578.8,1514.0 L1580.8,1514.0 L1582.8,1514.0 L1584.8,1514.0 L1586.8,1514.0 L1588.8,1514.0 L1590.8,1514.0 L1592.8,1514.0 L1594.8,1514.0 L1596.8,1514.0 L1598.8,1514.0 L1600.8,1514.0 L1602.8,1514.0 L1604.8,1514.0 L1606.8,1514.0 L1608.8,1514.0 L1610.8,1514.0 L1612.8,1514.0 L1614.8,1514.0 L1616.8,1514.0 L1618.8,1514.0 L1620.8,1514.0 L1622.8,1514.0 L1624.8,1514.0 L1626.8,1514.0 L1628.8,1514.0 L1630.8,1514.0 L1632.8,1514.0 L1634.8,1514.0 L1636.8,1514.0 L1638.8,1514.0 L1640.8,1514.0 L1642.8,1514.0 L1644.8,1514.0 L1646.8,1514.0 L1648.8,1514.0 L1650.8,1514.0 L1652.8,1514.0 L1654.8,1514.0 L1656.8,1514.0 L1658.8,1514.0 L1660.8,1514.0 L1662.8,1514.0 L1664.8,1514.0 L1666.8,1514.0 L1668.8,1514.0 L1670.8,1514.0 L1672.8,1514.0 L1674.8,1514.0 L1676.8,1514.0 L1678.8,1514.0 L1680.8,1514.0 L1682.8,1514.0 L1684.8,1514.0 L1686.8,1514.0 L1688.8,1514.0 L1690.8,1514.0 L1692.8,1514.0 L1694.8,1514.0 L1696.8,1514.0 L1698.8,1514.0 L1700.8,1514.0 L1702.8,1514.0 L1704.8,1514.0 L1706.8,1514.0 L1708.8,1514.0 L1710.8,1514.0 L1712.8,1514.0 L1714.8,1514.0 L1716.8,1514.0 L1718.8,1514.0 L1720.8,1514.0 L1722.8,1514.0 L1724.8,1514.0 L1726.8,1514.0 L1728.8,1514.0 L1730.8,1514.0 L1732.8,1514.0 L1734.8,1514.0 L1736.8,1514.0 L1738.8,1514.0 L1740.8,1514.0 L1742.8,1514.0 L1744.8,1514.0 L1746.8,1514.0 L1748.8,1514.0 L1750.8,1514.0 L1752.8,1514.0 L1754.8,1514.0 L1756.8,1514.0 L1758.8,1514.0 L1760.8,1514.0 L1762.8,1514.0 L1764.8,1514.0 L1766.8,1514.0 L1768.8,1514.0 L1770.8,1514.0 L1772.8,1514.0 L1774.8,1514.0 L1776.8,1514.0 L1778.8,1514.0 L1780.8,1514.0 L1782.8,1514.0 L1784.8,1514.0 L1786.8,1514.0 L1788.8,1514.0 L1790.8,1514.0 L1792.8,1514.0 L1794.8,1514.0 L1796.8,1514.0 L1798.8,1514.0 L1800.8,1514.0 L1802.8,1514.0 L1804.8,1514.0 L1806.8,1514.0 L1808.8,1514.0 L1810.8,1514.0 L1812.8,1514.0 L1814.8,1514.0 L1816.8,1514.0 L1818.8,1514.0 L1820.8,1514.0 L1822.8,1514.0 L1824.8,1514.0 L1826.8,1514.0 L1828.8,1514.0 L1830.8,1514.0 L1832.8,1514.0 L1834.8,1514.0 L1836.8,1514.0 L1838.8,1514.0 L1840.8,1514.0 L1842.8,1514.0 L1844.8,1514.0 L1846.8,1514.0 L1848.8,1514.0 L1850.8,1514.0 L1852.8,1514.0 L1854.8,1514.0 L1856.8,1514.0 L1858.8,1514.0 L1860.8,1514.0 L1862.8,1514.0 L1864.8,1514.0 L1866.8,1514.0 L1868.8,1514.0 L1870.8,1514.0 L1872.8,1514.0 L1874.8,1514.0 L1876.8,1514.0 L1878.8,1514.0 L1880.8,1514.0 L1882.8,1514.0 L1884.8,1514.0 L1886.8,1514.0 L1888.8,1514.0 L1890.8,1514.0 L1892.8,1514.0 L1894.8,1514.0 L1896.8,1514.0 L1898.8,1514.0 L1900.8,1514.0 L1902.8,1514.0 L1904.8,1514.0 L1906.8,1514.0 L1908.8,1514.0 L1910.8,1514.0 L1912.8,1514.0 L1914.8,1514.0 L1916.8,1514.0 L1918.8,1514.0 L1920.8,1514.0 L1922.8,1514.0 L1924.8,1514.0 L1926.8,1514.0 L1928.8,1514.0 L1930.8,1514.0 L1932.8,1514.0 L1934.8,1514.0 L1936.8,1514.0 L1938.8,1514.0 L1940.8,1514.0 L1942.8,1514.0 L1944.8,1514.0 L1946.8,1514.0 L1948.8,1514.0 L1950.8,1514.0 L1952.8,1514.0 L1954.8,1514.0 L1956.8,1514.0 L1958.8,1514.0 L1960.8,1514.0 L1962.8,1514.0 L1964.8,1514.0 L1966.8,1514.0 L1968.8,1514.0 L1970.8,1514.0 L1972.8,1514.0 L1974.8,1514.0 L1976.8,1514.0 L1978.8,1514.0 L1980.8,1514.0 L1982.8,1514.0 L1984.8,1514.0 L1986.8,1514.0 L1988.8,1514.0 L1990.8,1514.0 L1992.8,1514.0 L1994.8,1514.0 L1996.8,1514.0 L1998.8,1514.0 L2000.8,1514.0 L2002.8,1514.0 L2004.8,1514.0 L2006.8,1514.0 L2008.8,1514.0 L2010.8,1514.0 L2012.8,1514.0 L2014.8,1514.0 L2016.8,1514.0 L2018.8,1514.0 L2020.8,1514.0 L2022.8,1514.0 L2024.8,1514.0 L2026.8,1514.0 L2028.8,1514.0 L2030.8,1514.0 L2032.8,1514.0 L2034.8,1514.0 L2036.8,1514.0 L2038.8,1514.0 L2040.8,1514.0 L2042.8,1514.0 L2044.8,1514.0 L2046.8,1514.0 L2048.8,1514.0 L2050.8,1514.0 L2052.8,1514.0 L2054.8,1514.0" stroke="#0f0" stroke-width="8.8"/>
<path d="M214.8,415.5 L216.8,411.6 L218.8,407.7 L220.8,404.0 L222.8,400.4 L224.8,396.9 L226.8,393.5 L228.8,390.2 L230.8,387.1 L232.8,384.1 L234.8,381.2 L236.8,378.4 L238.8,375.7 L240.8,373.2 L242.8,370.8 L244.8,368.5 L246.8,366.3 L248.8,364.3 L250.8,362.4 L252.8,360.6 L254.8,358.9 L256.8,357.4 L258.8,356.0 L260.8,354.7 L262.8,353.6 L264.8,352.5 L266.8,351.6 L268.8,350.9 L270.8,350.2 L272.8,349.7 L274.8,349.3 L276.8,349.0 L278.8,348.9 L280.8,348.9 L282.8,349.0 L284.8,349.2 L286.8,349.6 L288.8,350.0 L290.8,350.6 L292.8,351.3 L294.8,352.1 L296.8,353.0 L298.8,354.1 L300.8,355.2 L302.8,356.5 L304.8,357.8 L306.8,359.3 L308.8,360.9 L310.8,362.5 L312.8,364.3 L314.8,366.2 L316.8,368.1 L318.8,370.2 L320.8,372.3 L322.8,374.5 L324.8,376.8 L326.8,379.2 L328.8,381.6 L330.8,384.1 L332.8,386.7 L334.8,389.4 L336.8,392.0 L338.8,394.8 L340.8,397.6 L342.8,400.5 L344.8,403.3 L346.8,406.3 L348.8,409.2 L350.8,412.2 L352.8,415.2 L354.8,418.3 L356.8,421.3 L358.8,424.4 L360.8,427.4 L362.8,430.5 L364.8,433.5 L366.8,436.5 L368.8,439.5 L370.8,442.5 L372.8,445.5 L374.8,448.4 L376.8,451.3 L378.8,454.1 L380.8,456.9 L382.8,459.6 L384.8,462.2 L386.8,464.8 L388.8,467.3 L390.8,469.7 L392.8,472.1 L394.8,474.3 L396.8,476.4 L398.8,478.5 L400.8,480.4 L402.8,482.2 L404.8,483.9 L406.8,485.5 L408.8,486.9 L410.8,488.2 L412.8,489.4 L414.8,490.4 L416.8,491.3 L418.8,492.0 L420.8,492.6 L422.8,493.0 L424.8,493.2 L426.8,493.3 L428.8,493.3 L430.8,493.0 L432.8,492.6 L434.8,492.0 L436.8,491.3 L438.8,490.3 L440.8,489.2 L442.8,488.0 L444.8,486.5 L446.8,484.9 L448.8,483.2 L450.8,481.2 L452.8,479.1 L454.8,476.8 L456.8,474.4 L458.8,471.8 L460.8,469.1 L462.8,466.2 L464.8,463.2 L466.8,460.1 L468.8,456.8 L470.8,453.4 L472.8,449.9 L474.8,446.3 L476.8,442.6 L478.8,438.8 L480.8,434.9 L482.8,431.0 L484.8,426.9 L486.8,422.9 L488.8,418.8 L490.8,414.6 L492.8,410.5 L494.8,406.3 L496.8,402.2 L498.8,398.0 L500.8,393.9 L502.8,389.8 L504.8,385.8 L506.8,381.9 L508.8,378.0 L510.8,374.2 L512.8,370.5 L514.8,367.0 L516.8,363.6 L518.8,360.3 L520.8,357.2 L522.8,354.3 L524.8,351.5 L526.8,349.0 L528.8,346.6 L530.8,344.5 L532.8,342.6 L534.8,341.0 L536.8,339.6 L538.8,338.5 L540.8,337.7 L542.8,337.2 L544.8,337.0 L546.8,337.1 L548.8,337.5 L550.8,338.3 L552.8,339.4 L554.8,340.8 L556.8,342.6 L558.8,344.8 L560.8,347.3 L562.8,350.2 L564.8,353.4 L566.8,357.1 L568.8,361.1 L570.8,365.6 L572.8,370.4 L574.8,375.6 L576.8,381.2 L578.8,387.1 L580.8,393.5 L582.8,400.3 L584.8,407.4 L586.8,414.9 L588.8,422.8 L590.8,431.1 L592.8,439.7 L594.8,448.7 L596.8,458.0 L598.8,467.7 L600.8,477.8 L602.8,488.1 L604.8,498.8 L606.8,509.8 L608.8,521.1 L610.8,532.7 L612.8,544.6 L614.8,556.8 L616.8,569.2 L618.8,581.8 L620.8,594.7 L622.8,607.8 L624.8,621.1 L626.8,634.6 L628.8,648.3 L630.8,662.2 L632.8,676.2 L634.8,690.3 L636.8,704.6 L638.8,719.0 L640.8,733.5 L642.8,748.1 L644.8,762.7 L646.8,777.4 L648.8,792.1 L650.8,806.9 L652.8,821.6 L654.8,836.4 L656.8,851.2 L658.8,865.9 L660.8,880.6 L662.8,895.2 L664.8,909.8 L666.8,924.3 L668.8,938.7 L670.8,953.0 L672.8,967.2 L674.8,981.3 L676.8,995.3 L678.8,1009.1 L680.8,1022.8 L682.8,1036.3 L684.8,1049.6 L686.8,1062.8 L688.8,1075.8 L690.8,1088.6 L692.8,1101.2 L694.8,1113.7 L696.8,1125.9 L698.8,1137.9 L700.8,1149.7 L702.8,1161.2 L704.8,1172.6 L706.8,1183.7 L708.8,1194.6 L710.8,1205.3 L712.8,1215.7 L714.8,1225.9 L716.8,1235.9 L718.8,1245.6 L720.8,1255.1 L722.8,1264.3 L724.8,1273.4 L726.8,1282.2 L728.8,1290.7 L730.8,1299.0 L732.8,1307.1 L734.8,1315.0 L736.8,1322.6 L738.8,1330.0 L740.8,1337.2 L742.8,1344.1 L744.8,1350.9 L746.8,1357.4 L748.8,1363.7 L750.8,1369.8 L752.8,1375.7 L754.8,1381.4 L756.8,1386.9 L758.8,1392.2 L760.8,1397.4 L762.8,1402.3 L764.8,1407.1 L766.8,1411.7 L768.8,1416.1 L770.8,1420.3 L772.8,1424.4 L774.8,1428.3 L776.8,1432.1 L778.8,1435.7 L780.8,1439.2 L782.8,1442.6 L784.8,1445.8 L786.8,1448.8 L788.8,1451.8 L790.8,1454.6 L792.8,1457.3 L794.8,1459.9 L796.8,1462.4 L798.8,1464.7 L800.8,1467.0 L802.8,1469.2 L804.8,1471.2 L806.8,1473.2 L808.8,1475.1 L810.8,1476.9 L812.8,1478.6 L814.8,1480.3 L816.8,1481.8 L818.8,1483.3 L820.8,1484.8 L822.8,1486.1 L824.8,1487.4 L826.8,1488.6 L828.8,1489.8 L830.8,1490.9 L832.8,1492.0 L834.8,1493.0 L836.8,1494.0 L838.8,1494.9 L840.8,1495.8 L842.8,1496.6 L844.8,1497.4 L846.8,1498.2 L848.8,1498.9 L850.8,1499.6 L852.8,1500.2 L854.8,1500.9 L856.8,1501.4 L858.8,1502.0 L860.8,1502.5 L862.8,1503.1 L864.8,1503.5 L866.8,1504.0 L868.8,1504.4 L870.8,1504.9 L872.8,1505.3 L874.8,1505.6 L876.8,1506.0 L878.8,1506.4 L880.8,1506.7 L882.8,1507.0 L884.8,1507.3 L886.8,1507.6 L888.8,1507.9 L890.8,1508.1 L892.8,1508.4 L894.8,1508.6 L896.8,1508.8 L898.8,1509.0 L900.8,1509.3 L902.8,1509.5 L904.8,1509.6 L906.8,1509.8 L908.8,1510.0 L910.8,1510.2 L912.8,1510.3 L914.8,1510.5 L916.8,1510.6 L918.8,1510.7 L920.8,1510.9 L922.8,1511.0 L924.8,1511.1 L926.8,1511.2 L928.8,1511.4 L930.8,1511.5 L932.8,1511.6 L934.8,1511.7 L936.8,1511.8 L938.8,1511.8 L940.8,1511.9 L942.8,1512.0 L944.8,1512.1 L946.8,1512.2 L948.8,1512.2 L950.8,1512.3 L952.8,1512.4 L954.8,1512.4 L956.8,1512.5 L958.8,1512.6 L960.8,1512.6 L962.8,1512.7 L964.8,1512.7 L966.8,1512.8 L968.8,1512.8 L970.8,1512.9 L972.8,1512.9 L974.8,1513.0 L976.8,1513.0 L978.8,1513.1 L980.8,1513.1 L982.8,1513.1 L984.8,1513.2 L986.8,1513.2 L988.8,1513.2 L990.8,1513.3 L992.8,1513.3 L994.8,1513.3 L996.8,1513.4 L998.8,1513.4 L1000.8,1513.4 L1002.8,1513.4 L1004.8,1513.5 L1006.8,1513.5 L1008.8,1513.5 L1010.8,1513.5 L1012.8,1513.5 L1014.8,1513.6 L1016.8,1513.6 L1018.8,1513.6 L1020.8,1513.6 L1022.8,1513.6 L1024.8,1513.6 L1026.8,1513.7 L1028.8,1513.7 L1030.8,1513.7 L1032.8,1513.7 L1034.8,1513.7 L1036.8,1513.7 L1038.8,1513.7 L1040.8,1513.7 L1042.8,1513.8 L1044.8,1513.8 L1046.8,1513.8 L1048.8,1513.8 L1050.8,1513.8 L1052.8,1513.8 L1054.8,1513.8 L1056.8,1513.8 L1058.8,1513.8 L1060.8,1513.8 L1062.8,1513.8 L1064.8,1513.9 L1066.8,1513.9 L1068.8,1513.9 L1070.8,1513.9 L1072.8,1513.9 L1074.8,1513.9 L1076.8,1513.9 L1078.8,1513.9 L1080.8,1513.9 L1082.8,1513.9 L1084.8,1513.9 L1086.8,1513.9 L1088.8,1513.9 L1090.8,1513.9 L1092.8,1513.9 L1094.8,1513.9 L1096.8,1513.9 L1098.8,1513.9 L1100.8,1513.9 L1102.8,1513.9 L1104.8,1513.9 L1106.8,1513.9 L1108.8,1513.9 L1110.8,1514.0 L1112.8,1514.0 L1114.8,1514.0 L1116.8,1514.0 L1118.8,1514.0 L1120.8,1514.0 L1122.8,1514.0 L1124.8,1514.0 L1126.8,1514.0 L1128.8,1514.0 L1130.8,1514.0 L1132.8,1514.0 L1134.8,1514.0 L1136.8,1514.0 L1138.8,1514.0 L1140.8,1514.0 L1142.8,1514.0 L1144.8,1514.0 L1146.8,1514.0 L1148.8,1514.0 L1150.8,1514.0 L1152.8,1514.0 L1154.8,1514.0 L1156.8,1514.0 L1158.8,1514.0 L1160.8,1514.0 L1162.8,1514.0 L1164.8,1514.0 L1166.8,1514.0 L1168.8,1514.0 L1170.8,1514.0 L1172.8,1514.0 L1174.8,1514.0 L1176.8,1514.0 L1178.8,1514.0 L1180.8,1514.0 L1182.8,1514.0 L1184.8,1514.0 L1186.8,1514.0 L1188.8,1514.0 L1190.8,1514.0 L1192.8,1514.0 L1194.8,1514.0 L1196.8,1514.0 L1198.8,1514.0 L1200.8,1514.0 L1202.8,1514.0 L1204.8,1514.0 L1206.8,1514.0 L1208.8,1514.0 L1210.8,1514.0 L1212.8,1514.0 L1214.8,1514.0 L1216.8,1514.0 L1218.8,1514.0 L1220.8,1514.0 L1222.8,1514.0 L1224.8,1514.0 L1226.8,1514.0 L1228.8,1514.0 L1230.8,1514.0 L1232.8,1514.0 L1234.8,1514.0 L1236.8,1514.0 L1238.8,1514.0 L1240.8,1514.0 L1242.8,1514.0 L1244.8,1514.0 L1246.8,1514.0 L1248.8,1514.0 L1250.8,1514.0 L1252.8,1514.0 L1254.8,1514.0 L1256.8,1514.0 L1258.8,1514.0 L1260.8,1514.0 L1262.8,1514.0 L1264.8,1514.0 L1266.8,1514.0 L1268.8,1514.0 L1270.8,1514.0 L1272.8,1514.0 L1274.8,1514.0 L1276.8,1514.0 L1278.8,1514.0 L1280.8,1514.0 L1282.8,1514.0 L1284.8,1514.0 L1286.8,1514.0 L1288.8,1514.0 L1290.8,1514.0 L1292.8,1514.0 L1294.8,1514.0 L1296.8,1514.0 L1298.8,1514.0 L1300.8,1514.0 L1302.8,1514.0 L1304.8,1514.0 L1306.8,1514.0 L1308.8,1514.0 L1310.8,1514.0 L1312.8,1514.0 L1314.8,1514.0 L1316.8,1514.0 L1318.8,1514.0 L1320.8,1514.0 L1322.8,1514.0 L1324.8,1514.0 L1326.8,1514.0 L1328.8,1514.0 L1330.8,1514.0 L1332.8,1514.0 L1334.8,1514.0 L1336.8,1514.0 L1338.8,1514.0 L1340.8,1514.0 L1342.8,1514.0 L1344.8,1514.0 L1346.8,1514.0 L1348.8,1514.0 L1350.8,1514.0 L1352.8,1514.0 L1354.8,1514.0 L1356.8,1514.0 L1358.8,1514.0 L1360.8,1514.0 L1362.8,1514.0 L1364.8,1514.0 L1366.8,1514.0 L1368.8,1514.0 L1370.8,1514.0 L1372.8,1514.0 L1374.8,1514.0 L1376.8,1514.0 L1378.8,1514.0 L1380.8,1514.0 L1382.8,1514.0 L1384.8,1514.0 L1386.8,1514.0 L1388.8,1514.0 L1390.8,1514.0 L1392.8,1514.0 L1394.8,1514.0 L1396.8,1514.0 L1398.8,1514.0 L1400.8,1514.0 L1402.8,1514.0 L1404.8,1514.0 L1406.8,1514.0 L1408.8,1514.0 L1410.8,1514.0 L1412.8,1514.0 L1414.8,1514.0 L1416.8,1514.0 L1418.8,1514.0 L1420.8,1514.0 L1422.8,1514.0 L1424.8,1514.0 L1426.8,1514.0 L1428.8,1514.0 L1430.8,1514.0 L1432.8,1514.0 L1434.8,1514.0 L1436.8,1514.0 L1438.8,1514.0 L1440.8,1514.0 L1442.8,1514.0 L1444.8,1514.0 L1446.8,1514.0 L1448.8,1514.0 L1450.8,1514.0 L1452.8,1514.0 L1454.8,1514.0 L1456.8,1514.0 L1458.8,1514.0 L1460.8,1514.0 L1462.8,1514.0 L1464.8,1514.0 L1466.8,1514.0 L1468.8,1514.0 L1470.8,1514.0 L1472.8,1514.0 L1474.8,1514.0 L1476.8,1514.0 L1478.8,1514.0 L1480.8,1514.0 L1482.8,1514.0 L1484.8,1514.0 L1486.8,1514.0 L1488.8,1514.0 L1490.8,1514.0 L1492.8,1514.0 L1494.8,1514.0 L1496.8,1514.0 L1498.8,1514.0 L1500.8,1514.0 L1502.8,1514.0 L1504.8,1514.0 L1506.8,1514.0 L1508.8,1514.0 L1510.8,1514.0 L1512.8,1514.0 L1514.8,1514.0 L1516.8,1514.0 L1518.8,1514.0 L1520.8,1514.0 L1522.8,1514.0 L1524.8,1514.0 L1526.8,1514.0 L1528.8,1514.0 L1530.8,1514.0 L1532.8,1514.0 L1534.8,1514.0 L1536.8,1514.0 L1538.8,1514.0 L1540.8,1514.0 L1542.8,1514.0 L1544.8,1514.0 L1546.8,1514.0 L1548.8,1514.0 L1550.8,1514.0 L1552.8,1514.0 L1554.8,1514.0 L1556.8,1514.0 L1558.8,1514.0 L1560.8,1514.0 L1562.8,1514.0 L1564.8,1514.0 L1566.8,1514.0 L1568.8,1514.0 L1570.8,1514.0 L1572.8,1514.0 L1574.8,1514.0 L1576.8,1514.0 L1578.8,1514.0 L1580.8,1514.0 L1582.8,1514.0 L1584.8,1514.0 L1586.8,1514.0 L1588.8,1514.0 L1590.8,1514.0 L1592.8,1514.0 L1594.8,1514.0 L1596.8,1514.0 L1598.8,1514.0 L1600.8,1514.0 L1602.8,1514.0 L1604.8,1514.0 L1606.8,1514.0 L1608.8,1514.0 L1610.8,1514.0 L1612.8,1514.0 L1614.8,1514.0 L1616.8,1514.0 L1618.8,1514.0 L1620.8,1514.0 L1622.8,1514.0 L1624.8,1514.0 L1626.8,1514.0 L1628.8,1514.0 L1630.8,1514.0 L1632.8,1514.0 L1634.8,1514.0 L1636.8,1514.0 L1638.8,1514.0 L1640.8,1514.0 L1642.8,1514.0 L1644.8,1514.0 L1646.8,1514.0 L1648.8,1514.0 L1650.8,1514.0 L1652.8,1514.0 L1654.8,1514.0 L1656.8,1514.0 L1658.8,1514.0 L1660.8,1514.0 L1662.8,1514.0 L1664.8,1514.0 L1666.8,1514.0 L1668.8,1514.0 L1670.8,1514.0 L1672.8,1514.0 L1674.8,1514.0 L1676.8,1514.0 L1678.8,1514.0 L1680.8,1514.0 L1682.8,1514.0 L1684.8,1514.0 L1686.8,1514.0 L1688.8,1514.0 L1690.8,1514.0 L1692.8,1514.0 L1694.8,1514.0 L1696.8,1514.0 L1698.8,1514.0 L1700.8,1514.0 L1702.8,1514.0 L1704.8,1514.0 L1706.8,1514.0 L1708.8,1514.0 L1710.8,1514.0 L1712.8,1514.0 L1714.8,1514.0 L1716.8,1514.0 L1718.8,1514.0 L1720.8,1514.0 L1722.8,1514.0 L1724.8,1514.0 L1726.8,1514.0 L1728.8,1514.0 L1730.8,1514.0 L1732.8,1514.0 L1734.8,1514.0 L1736.8,1514.0 L1738.8,1514.0 L1740.8,1514.0 L1742.8,1514.0 L1744.8,1514.0 L1746.8,1514.0 L1748.8,1514.0 L1750.8,1514.0 L1752.8,1514.0 L1754.8,1514.0 L1756.8,1514.0 L1758.8,1514.0 L1760.8,1514.0 L1762.8,1514.0 L1764.8,1514.0 L1766.8,1514.0 L1768.8,1514.0 L1770.8,1514.0 L1772.8,1514.0 L1774.8,1514.0 L1776.8,1514.0 L1778.8,1514.0 L1780.8,1514.0 L1782.8,1514.0 L1784.8,1514.0 L1786.8,1514.0 L1788.8,1514.0 L1790.8,1514.0 L1792.8,1514.0 L1794.8,1514.0 L1796.8,1514.0 L1798.8,1514.0 L1800.8,1514.0 L1802.8,1514.0 L1804.8,1514.0 L1806.8,1514.0 L1808.8,1514.0 L1810.8,1514.0 L1812.8,1514.0 L1814.8,1514.0 L1816.8,1514.0 L1818.8,1514.0 L1820.8,1514.0 L1822.8,1514.0 L1824.8,1514.0 L1826.8,1514.0 L1828.8,1514.0 L1830.8,1514.0 L1832.8,1514.0 L1834.8,1514.0 L1836.8,1514.0 L1838.8,1514.0 L1840.8,1514.0 L1842.8,1514.0 L1844.8,1514.0 L1846.8,1514.0 L1848.8,1514.0 L1850.8,1514.0 L1852.8,1514.0 L1854.8,1514.0 L1856.8,1514.0 L1858.8,1514.0 L1860.8,1514.0 L1862.8,1514.0 L1864.8,1514.0 L1866.8,1514.0 L1868.8,1514.0 L1870.8,1514.0 L1872.8,1514.0 L1874.8,1514.0 L1876.8,1514.0 L1878.8,1514.0 L1880.8,1514.0 L1882.8,1514.0 L1884.8,1514.0 L1886.8,1514.0 L1888.8,1514.0 L1890.8,1514.0 L1892.8,1514.0 L1894.8,1514.0 L1896.8,1514.0 L1898.8,1514.0 L1900.8,1514.0 L1902.8,1514.0 L1904.8,1514.0 L1906.8,1514.0 L1908.8,1514.0 L1910.8,1514.0 L1912.8,1514.0 L1914.8,1514.0 L1916.8,1514.0 L1918.8,1514.0 L1920.8,1514.0 L1922.8,1514.0 L1924.8,1514.0 L1926.8,1514.0 L1928.8,1514.0 L1930.8,1514.0 L1932.8,1514.0 L1934.8,1514.0 L1936.8,1514.0 L1938.8,1514.0 L1940.8,1514.0 L1942.8,1514.0 L1944.8,1514.0 L1946.8,1514.0 L1948.8,1514.0 L1950.8,1514.0 L1952.8,1514.0 L1954.8,1514.0 L1956.8,1514.0 L1958.8,1514.0 L1960.8,1514.0 L1962.8,1514.0 L1964.8,1514.0 L1966.8,1514.0 L1968.8,1514.0 L1970.8,1514.0 L1972.8,1514.0 L1974.8,1514.0 L1976.8,1514.0 L1978.8,1514.0 L1980.8,1514.0 L1982.8,1514.0 L1984.8,1514.0 L1986.8,1514.0 L1988.8,1514.0 L1990.8,1514.0 L1992.8,1514.0 L1994.8,1514.0 L1996.8,1514.0 L1998.8,1514.0 L2000.8,1514.0 L2002.8,1514.0 L2004.8,1514.0 L2006.8,1514.0 L2008.8,1514.0 L2010.8,1514.0 L2012.8,1514.0 L2014.8,1514.0 L2016.8,1514.0 L2018.8,1514.0 L2020.8,1514.0 L2022.8,1514.0 L2024.8,1514.0 L2026.8,1514.0 L2028.8,1514.0 L2030.8,1514.0 L2032.8,1514.0 L2034.8,1514.0 L2036.8,1514.0 L2038.8,1514.0 L2040.8,1514.0 L2042.8,1514.0 L2044.8,1514.0 L2046.8,1514.0 L2048.8,1514.0 L2050.8,1514.0 L2052.8,1514.0 L2054.8,1514.0" stroke="#00f" stroke-width="8.8"/>
</g>
<g class="t" font-size="63" text-anchor="middle">
<text x="213.0" y="1609">200</text>
<text x="475.6" y="1609">300</text>
<text x="738.3" y="1609">400</text>
<text x="1000.9" y="1609">500</text>
<text x="1263.6" y="1609">600</text>
<text x="1526.2" y="1609">700</text>
<text x="1788.9" y="1609">800</text>
<text x="2051.5" y="1609">900</text>
</g>
<text class="t" font-size="77" x="764.5" y="1728">Wavelength nm. (nm)</text>
<text class="t" font-size="77.3" transform="translate(95,1046) rotate(-90)">Absorbance (a.u.)</text>
<g stroke="#000" stroke-width="2.3" stroke-dasharray="3.8 7.2" fill="none" shape-rendering="crispEdges">
<line x1="361.9" y1="284.6" x2="261.4" y2="615"/>
<line x1="742" y1="756" x2="590" y2="890.5"/>
</g>
<text class="t" font-size="63" x="256.6" y="293">Ti<tspan font-size="43" dy="-26">4+</tspan><tspan dy="26">- O</tspan><tspan font-size="43" dy="-26">2-</tspan></text>
<text class="t" font-size="63" x="747.3" y="761">-Ti<tspan font-size="43" dy="-26">4+</tspan></text>
<g stroke="#000" stroke-width="4" fill="none" shape-rendering="crispEdges">
<rect x="1049.0" y="72.0" width="964.0" height="857.0"/>
<line x1="1049.0" y1="929.0" x2="1049.0" y2="945.5"/>
<line x1="1102.6" y1="929.0" x2="1102.6" y2="937.5"/>
<line x1="1156.1" y1="929.0" x2="1156.1" y2="945.5"/>
<line x1="1209.7" y1="929.0" x2="1209.7" y2="937.5"/>
<line x1="1263.2" y1="929.0" x2="1263.2" y2="945.5"/>
<line x1="1316.8" y1="929.0" x2="1316.8" y2="937.5"/>
<line x1="1370.3" y1="929.0" x2="1370.3" y2="945.5"/>
<line x1="1423.9" y1="929.0" x2="1423.9" y2="937.5"/>
<line x1="1477.4" y1="929.0" x2="1477.4" y2="945.5"/>
<line x1="1531.0" y1="929.0" x2="1531.0" y2="937.5"/>
<line x1="1584.6" y1="929.0" x2="1584.6" y2="945.5"/>
<line x1="1638.1" y1="929.0" x2="1638.1" y2="937.5"/>
<line x1="1691.7" y1="929.0" x2="1691.7" y2="945.5"/>
<line x1="1745.2" y1="929.0" x2="1745.2" y2="937.5"/>
<line x1="1798.8" y1="929.0" x2="1798.8" y2="945.5"/>
<line x1="1852.3" y1="929.0" x2="1852.3" y2="937.5"/>
<line x1="1905.9" y1="929.0" x2="1905.9" y2="945.5"/>
<line x1="1959.4" y1="929.0" x2="1959.4" y2="937.5"/>
<line x1="2013.0" y1="929.0" x2="2013.0" y2="945.5"/>
</g>
<g clip-path="url(#ci)" fill="none" shape-rendering="crispEdges">
<path d="M1051.1,154.0 L1056.8,164.3 L1070.0,131.4 L1076.3,155.2 L1082.5,138.7 L1089.7,149.2 L1095.7,132.2 L1108.9,179.2 L1121.9,147.1 L1128.8,157.4 L1135.3,154.5 L1148.3,174.1 L1155.4,158.6 L1162.4,180.2 L1168.9,165.1 L1175.4,162.6 L1183.1,159.1 L1189.5,181.4 L1196.9,178.3 L1203.7,187.1 L1210.4,207.3 L1217.9,193.1 L1232.0,209.7 L1239.7,219.1 L1245.7,236.6 L1260.3,231.5 L1267.7,259.1 L1274.9,275.4 L1282.2,272.8 L1289.4,306.2 L1297.1,303.7 L1319.8,345.5 L1325.9,348.6 L1333.5,367.4 L1341.7,394.0 L1348.6,397.4 L1341.3,394.1 L1347.8,397.4 L1356.5,408.2 L1364.1,418.0 L1368.4,429.9 L1386.9,475.5 L1403.8,514.6 L1404.2,519.0 L1407.5,527.7 L1434.6,582.0 L1460.7,638.4 L1483.5,681.8 L1495.4,703.6 L1517.2,727.4 L1528.0,738.3 L1554.1,758.9 L1545.5,753.0 L1563.8,766.1 L1584.8,778.4 L1611.0,790.4 L1637.2,798.8 L1663.3,806.1 L1689.5,811.9 L1715.7,816.6 L1741.9,820.0 L1768.1,822.7 L1794.3,825.0 L1820.5,826.6 L1846.7,827.9 L1872.9,828.7 L1899.1,829.5 L1951.5,829.7 L2003.8,830.2 L2011.7,830.5" stroke="#000" stroke-width="1"/>
</g>
<line x1="1322.2" y1="333" x2="1590.6" y2="926" stroke="#00f" stroke-width="5.3" shape-rendering="crispEdges"/>
<g class="t" font-size="37" text-anchor="middle">
<text x="1049.0" y="986" textLength="46.8" lengthAdjust="spacingAndGlyphs">2.7</text>
<text x="1156.1" y="986" textLength="46.8" lengthAdjust="spacingAndGlyphs">2.8</text>
<text x="1263.2" y="986" textLength="46.8" lengthAdjust="spacingAndGlyphs">2.9</text>
<text x="1370.3" y="986" textLength="46.8" lengthAdjust="spacingAndGlyphs">3.0</text>
<text x="1477.4" y="986" textLength="46.8" lengthAdjust="spacingAndGlyphs">3.1</text>
<text x="1584.6" y="986" textLength="46.8" lengthAdjust="spacingAndGlyphs">3.2</text>
<text x="1691.7" y="986" textLength="46.8" lengthAdjust="spacingAndGlyphs">3.3</text>
<text x="1798.8" y="986" textLength="46.8" lengthAdjust="spacingAndGlyphs">3.4</text>
<text x="1905.9" y="986" textLength="46.8" lengthAdjust="spacingAndGlyphs">3.5</text>
<text x="2013.0" y="986" textLength="46.8" lengthAdjust="spacingAndGlyphs">3.6</text>
</g>
<text class="t" font-size="44" x="1424" y="1054" textLength="215" lengthAdjust="spacingAndGlyphs">Energy (eV)</text>
<text class="t" font-size="43.7" transform="translate(988,608.5) rotate(-90)">(Alpha (hv))<tspan font-size="32" dy="-17.5">1/2</tspan></text>
<g transform="translate(1292.5,857.6) scale(0.895,1)"><text class="t" font-size="44.5" x="0" y="0">E<tspan font-size="31" dy="12">g</tspan><tspan dy="-12"> = 3.20</tspan></text></g>
</svg>
</body>
</html>
